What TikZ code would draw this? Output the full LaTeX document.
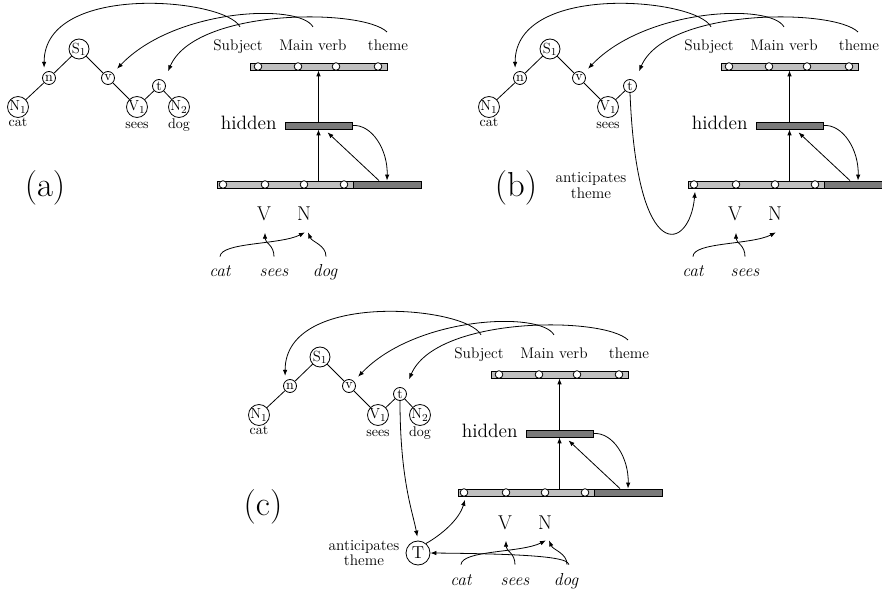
\documentclass[tikz,border=0pt]{standalone}
\usetikzlibrary{arrows.meta,calc}
\definecolor{lightbar}{RGB}{192,192,192}
\definecolor{darkbar}{RGB}{122,122,122}
\tikzset{
 arr/.style={-{Latex[length=4.5pt,width=3.4pt]}},
 bignode/.style={circle,draw,fill=white,inner sep=0pt,minimum size=15pt,font=\fontsize{11}{13}\selectfont},
 smallnode/.style={circle,draw,fill=white,inner sep=0pt,minimum size=9.75pt,font=\fontsize{10.5}{12}\selectfont},
 Tnode/.style={circle,draw,fill=white,inner sep=0pt,minimum size=18pt,font=\fontsize{13}{15}\selectfont},
 treeword/.style={inner sep=0pt,font=\fontsize{10.5}{12}\selectfont},
 netlab/.style={inner sep=0pt,font=\fontsize{11.5}{13}\selectfont},
 hidlab/.style={inner sep=0pt,font=\fontsize{14.5}{16}\selectfont},
 vnlab/.style={inner sep=0pt,font=\fontsize{15}{17}\selectfont},
 inword/.style={inner sep=0pt,text height=7.5pt,text depth=2.5pt,font=\fontsize{13}{15}\selectfont\itshape},
 lbar/.style={draw,fill=lightbar,minimum height=5.25pt,inner sep=0pt},
 dbar/.style={draw,fill=darkbar,minimum height=5.25pt,inner sep=0pt},
 unitdot/.style={circle,draw,fill=white,inner sep=0pt,minimum size=5.7pt},
 panellab/.style={inner sep=0pt,font=\fontsize{26}{30}\selectfont},
 antlab/.style={inner sep=0pt,align=center,font=\fontsize{11.5}{11.5}\selectfont},
}
\newcommand{\netpanel}{%
 \node[netlab,anchor=base] (subj) at (238,51) {Subject};
 \node[netlab,anchor=base] (mv) at (313,51) {Main verb};
 \node[netlab,anchor=base] (thm) at (388,51) {theme};
 \node[lbar,minimum width=102.75pt] (top) at (318.5,66.5) {};
 \foreach \i/\x in {1/258,2/298,3/336,4/378} \node[unitdot] (u\i) at (\x,66.5) {};
 \node[dbar,minimum width=50.25pt] (hid) at (318.5,125.5) {};
 \node[hidlab,anchor=base east] (hidl) at (277,130) {hidden};
 \node[lbar,minimum width=102pt] (bot) at (285,184.5) {};
 \node[dbar,minimum width=51pt] (ctx) at (387,184.5) {};
 \foreach \i/\x in {1/223,2/265,3/304,4/344} \node[unitdot] (c\i) at (\x,184.5) {};
 \node[vnlab,anchor=base] (V) at (264,221) {V};
 \node[vnlab,anchor=base] (N) at (304,221) {N};
 \draw[arr] (hid.south |- bot.north) -- (hid.south);
 \draw[arr] (hid.north) -- (top.south);
 \draw[arr] ($(ctx.north)+(-8,0)$) -- ($(hid.south)+(9,3)$);
 \draw[arr] (hid.east) .. controls (372,124) and (388,150) .. (ctx.north);
}
\newcommand{\treepanel}{%
 \node[bignode] (S1) at (79,49) {S$_1$};
 \node[smallnode] (n) at (49,78) {n};
 \node[smallnode] (v) at (108,78) {v};
 \node[smallnode] (t) at (159,86) {t};
 \node[bignode] (N1) at (18,107) {N$_1$};
 \node[bignode] (V1) at (137,107) {V$_1$};
 \draw (S1) -- (n); \draw (S1) -- (v); \draw (n) -- (N1); \draw (v) -- (V1); \draw (t) -- (V1);
 \node[treeword,anchor=base] (catw) at (18,127) {cat};
 \node[treeword,anchor=base] (seesw) at (137,129) {sees};
 \draw[arr,shorten >=4pt] ($(subj.north)+(2,-13)$) .. controls (225,-2) and (44,-18) .. (n.north west);
 \draw[arr,shorten >=4.5pt] ($(mv.north)+(0,-13)$) .. controls (300,3) and (175,8) .. (v.north east);
 \draw[arr,shorten >=8pt] ($(thm.north)+(-1,-8)$) .. controls (362,8) and (195,8) .. (t.north east);
}
\newcommand{\dogpart}{%
 \node[bignode] (N2) at (179,107) {N$_2$};
 \draw (t) -- (N2);
 \node[treeword,anchor=base] (dogw) at (179,129) {dog};
}
\begin{document}
\begin{tikzpicture}[x=0.75pt,y=-0.75pt,line width=0.6pt]
\useasboundingbox (0,0) rectangle (882,591);
\clip (0,0) rectangle (882,591);
% ---------- panel (a)
\begin{scope}[name prefix=a-]
 \netpanel
 \treepanel
 \dogpart
 \node[inword,anchor=base] (cat) at (220,277) {cat};
 \node[inword,anchor=base] (sees) at (274,277) {sees};
 \node[inword,anchor=base] (dog) at (325,277) {dog};
 \draw[arr] ($(cat.north)+(0,-10)$) .. controls (221,242) and (280,245) .. ($(N.south)+(1,11)$);
 \draw[arr] ($(sees.north)+(0,-10)$) .. controls (274,245) and (265,243) .. ($(V.south)+(1,11)$);
 \draw[arr] ($(dog.north)+(1,-10)$) .. controls (326,245) and (312,242) .. ($(N.south)+(4,11)$);
\end{scope}
% ---------- panel (b)
\begin{scope}[shift={(471,0)},name prefix=b-]
 \netpanel
 \treepanel
 \node[inword,anchor=base] (cat) at (222,277) {cat};
 \node[inword,anchor=base] (sees) at (274,277) {sees};
 \draw[arr] ($(cat.north)+(0,-10)$) .. controls (222,242) and (280,245) .. ($(N.south)+(1,11)$);
 \draw[arr] ($(sees.north)+(0,-10)$) .. controls (274,245) and (265,243) .. ($(V.south)+(1,11)$);
 \draw[arr] (t.south) .. controls (166,270) and (219,250) .. ($(c1.south)+(1,3)$);
\end{scope}
% ---------- panel (c)
\begin{scope}[shift={(241,308)},name prefix=c-]
 \netpanel
 \treepanel
 \dogpart
 \node[inword,anchor=base] (cat) at (220,277) {cat};
 \node[inword,anchor=base] (sees) at (274,277) {sees};
 \node[inword,anchor=base] (dog) at (325,277) {dog};
 \node[Tnode] (T) at (177,245) {T};
 \draw[arr] ($(cat.north)+(0,-10)$) .. controls (221,242) and (280,245) .. ($(N.south)+(1,11)$);
 \draw[arr] ($(sees.north)+(0,-10)$) .. controls (274,245) and (265,243) .. ($(V.south)+(1,11)$);
 \draw[arr] ($(dog.north)+(1,-10)$) .. controls (326,245) and (312,242) .. ($(N.south)+(4,11)$);
 \draw[arr] ($(dog.north)+(3,-10)$) .. controls (327,250) and (300,246) .. (T.east);
 \draw[arr,shorten >=3pt] (t.south) .. controls (159,172) and (172,205) .. (T.north);
 \draw[arr] (T.50) .. controls (200,227) and (218,212) .. ($(c1.south)+(1,3)$);
\end{scope}
% ---------- labels
\node[panellab] (la) at (45,188) {(a)};
\node[panellab] (lb) at (516,188) {(b)};
\node[panellab] (lc) at (263,507) {(c)};
\node[antlab] (antb) at (591,185.5) {anticipates\\theme};
\node[antlab] (antc) at (364,553) {anticipates\\theme};
\end{tikzpicture}
\end{document}
